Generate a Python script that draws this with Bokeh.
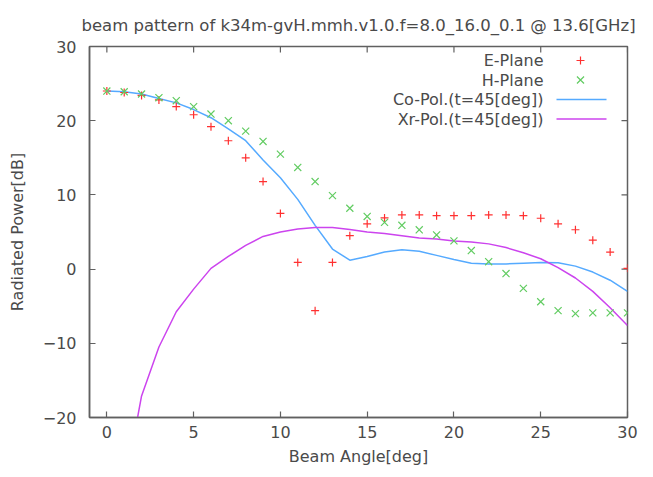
from bokeh.plotting import figure
from bokeh.models import Range1d, LinearAxis, FixedTicker, Label
from bokeh.embed import file_html
from bokeh.resources import INLINE

# ---- data ----
angles = list(range(0, 31))
e_plane = [24.0, 23.8, 23.4, 22.8, 21.9, 20.8, 19.2, 17.3, 15.0, 11.8, 7.5,
           0.9, -5.6, 0.9, 4.5, 6.1, 6.9, 7.3, 7.3, 7.2, 7.2,
           7.2, 7.3, 7.3, 7.2, 6.85, 6.1, 5.3, 3.9, 2.3, 0.1]
h_plane = [24.0, 23.9, 23.6, 23.1, 22.7, 21.9, 20.9, 20.0, 18.6, 17.2, 15.5,
           13.7, 11.8, 9.9, 8.2, 7.1, 6.3, 5.9, 5.3, 4.6, 3.8,
           2.5, 1.0, -0.6, -2.6, -4.4, -5.6, -6.0, -5.9, -5.9, -5.9]
co_pol = [24.0, 23.9, 23.6, 23.0, 22.4, 21.5, 20.4, 18.9, 17.3, 14.7, 12.3,
          9.4, 5.9, 2.7, 1.2, 1.7, 2.3, 2.6, 2.4, 1.85, 1.3,
          0.8, 0.7, 0.7, 0.8, 0.9, 0.85, 0.4, -0.4, -1.5, -3.0]
xr_pol = [-60.0, -29.7, -17.1, -10.5, -5.75, -2.7, 0.1, 1.7, 3.2, 4.4, 5.0,
          5.4, 5.6, 5.6, 5.35, 5.0, 4.8, 4.5, 4.2, 4.05, 3.8,
          3.65, 3.4, 2.9, 2.2, 1.4, 0.2, -1.2, -3.0, -5.2, -7.6]
series_names = ["E-Plane", "H-Plane", "Co-Pol.(t=45[deg])", "Xr-Pol.(t=45[deg])"]
x_ticks = [0, 5, 10, 15, 20, 25, 30]
y_ticks = [-20, -10, 0, 10, 20, 30]
title_text = "beam pattern of k34m-gvH.mmh.v1.0.f=8.0_16.0_0.1 @ 13.6[GHz]"
x_label = "Beam Angle[deg]"
y_label = "Radiated Power[dB]"

# ---- style ----
FONT = "DejaVu Sans"
FS = "16px"
TXT = "#4a4a4a"
AX = "#606060"
RED, GREEN, BLUE, MAG = "#ff3030", "#62cc62", "#55aaff", "#cc44ee"

X0, X1, Y0, Y1 = -1, 30, -20, 30
FL, FT, FW, FH = 89, 46, 538, 371
TICK = 6

p = figure(frame_width=FW, frame_height=FH,
           min_border_left=FL, min_border_right=653 - FL - FW,
           min_border_top=FT, min_border_bottom=477 - FT - FH,
           x_range=Range1d(X0, X1), y_range=Range1d(Y0, Y1),
           output_backend="svg", toolbar_location=None,
           x_axis_location=None, y_axis_location=None)
p.background_fill_color = "white"
p.border_fill_color = "white"
p.outline_line_color = AX
p.outline_line_width = 1.5
p.xgrid.visible = False
p.ygrid.visible = False

p.title.text = title_text
p.title.align = "center"
p.title.text_font = FONT
p.title.text_font_size = "16.5px"
p.title.text_font_style = "normal"
p.title.text_color = TXT
p.title.standoff = 24


def make_axis(ticks, label):
    ax = LinearAxis(ticker=FixedTicker(ticks=ticks))
    ax.axis_line_color = AX
    ax.axis_line_width = 1.5
    ax.major_tick_line_color = AX
    ax.major_tick_line_width = 1.2
    ax.major_tick_in = TICK
    ax.major_tick_out = 0
    ax.minor_tick_line_color = None
    ax.major_label_text_font = FONT
    ax.major_label_text_color = TXT
    ax.major_label_text_font_size = FS
    ax.axis_label = label
    ax.axis_label_text_font = FONT
    ax.axis_label_text_font_size = FS
    ax.axis_label_text_font_style = "normal"
    ax.axis_label_text_color = TXT
    return ax


bx = make_axis(x_ticks, x_label)
bx.major_label_standoff = 8
bx.axis_label_standoff = 6
ly = make_axis(y_ticks, y_label)
ly.major_label_standoff = 13
ly.axis_label_standoff = 13
p.add_layout(bx, "below")
p.add_layout(ly, "left")


# pixel -> data helpers for decorations (mirror ticks, key)
def dx(px):
    return X0 + (px - FL) / FW * (X1 - X0)


def dy(py):
    return Y1 - (py - FT) / FH * (Y1 - Y0)


# mirrored inward ticks on top and right borders (gnuplot style)
p.segment(x0=x_ticks, x1=x_ticks, y0=[Y1] * len(x_ticks), y1=[dy(FT + TICK)] * len(x_ticks),
          line_color=AX, line_width=1.2)
p.segment(x0=[X1] * len(y_ticks), x1=[dx(FL + FW - TICK)] * len(y_ticks), y0=y_ticks, y1=y_ticks,
          line_color=AX, line_width=1.2)

# ---- data glyphs ----
p.line(angles, co_pol, line_color=BLUE, line_width=1.5)
p.line(angles, xr_pol, line_color=MAG, line_width=1.5)
p.scatter(angles, e_plane, marker="cross", size=8, line_color=RED, line_width=1.2)
p.scatter(angles, h_plane, marker="x", size=10, line_color=GREEN, line_width=1.2)

# ---- gnuplot-style key (text left, sample right) ----
rows = [60, 79.5, 99, 118.5]
for name, py in zip(series_names, rows):
    p.add_layout(Label(x=dx(543), y=dy(py), text=name, text_align="right",
                       text_baseline="middle", text_font=FONT,
                       text_font_size=FS, text_color=TXT))
p.scatter([dx(580)], [dy(rows[0])], marker="cross", size=8, line_color=RED, line_width=1.2)
p.scatter([dx(580)], [dy(rows[1])], marker="x", size=10, line_color=GREEN, line_width=1.2)
p.line([dx(556), dx(606)], [dy(rows[2])] * 2, line_color=BLUE, line_width=1.5)
p.line([dx(556), dx(606)], [dy(rows[3])] * 2, line_color=MAG, line_width=1.5)

open("out.html", "w").write(file_html(p, INLINE))
